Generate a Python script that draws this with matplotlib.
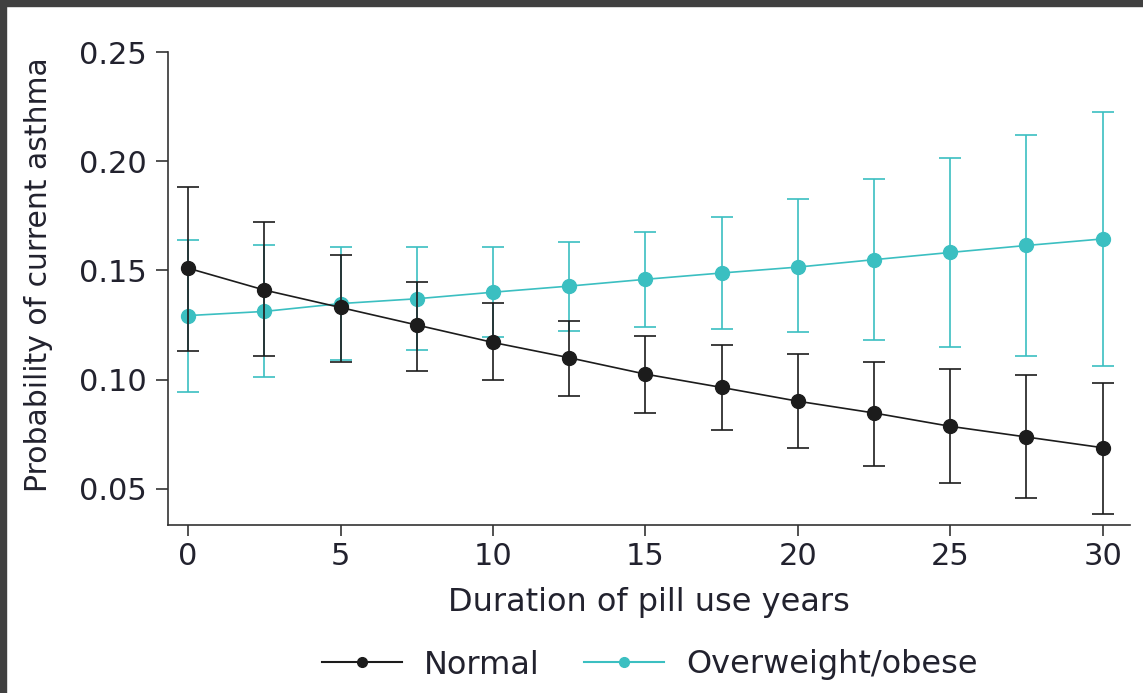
import matplotlib
matplotlib.use("Agg")
from matplotlib import pyplot as plt
from matplotlib.patches import Rectangle
from matplotlib.lines import Line2D

# duration of pill use (years)
years = [0, 2.5, 5, 7.5, 10, 12.5, 15, 17.5, 20, 22.5, 25, 27.5, 30]

normal = [0.151, 0.141, 0.133, 0.125, 0.117, 0.110, 0.1025, 0.0964, 0.0901, 0.0847, 0.0786, 0.0737, 0.0688]
normal_hi = [0.188, 0.172, 0.157, 0.1445, 0.135, 0.1266, 0.120, 0.1159, 0.1118, 0.1082, 0.1048, 0.1019, 0.0985]
normal_lo = [0.113, 0.111, 0.108, 0.104, 0.100, 0.0925, 0.0847, 0.0769, 0.0686, 0.0603, 0.0526, 0.0457, 0.0386]

obese = [0.1293, 0.1312, 0.1348, 0.137, 0.140, 0.1428, 0.1459, 0.1488, 0.1515, 0.1549, 0.1582, 0.1614, 0.1644]
obese_hi = [0.1641, 0.1618, 0.1605, 0.1605, 0.1605, 0.1632, 0.1674, 0.1744, 0.1827, 0.1918, 0.2015, 0.2121, 0.2224]
obese_lo = [0.0944, 0.1013, 0.109, 0.1137, 0.1195, 0.1223, 0.1242, 0.1230, 0.1216, 0.1181, 0.1151, 0.1110, 0.1062]

yticks = [0.05, 0.10, 0.15, 0.20, 0.25]
xticks = [0, 5, 10, 15, 20, 25, 30]

txt = '#22222e'
black = '#1c1c1c'
teal = '#3bbfc1'

plt.rcParams['font.family'] = ['DejaVu Sans']

fig = plt.figure(figsize=(11.43, 6.93), dpi=100)
ax = fig.add_axes([168/1143, 1 - 525/693, (1130 - 168)/1143, (525 - 52)/693])

def err(v, lo, hi):
    return [[a - b for a, b in zip(v, lo)], [b - a for a, b in zip(v, hi)]]

ax.errorbar(years, obese, yerr=err(obese, obese_lo, obese_hi), color=teal,
            marker='o', markersize=10, lw=1.2, elinewidth=1.2, capsize=8,
            capthick=1.2, zorder=2)
ax.errorbar(years, normal, yerr=err(normal, normal_lo, normal_hi), color=black,
            marker='o', markersize=10, lw=1.2, elinewidth=1.2, capsize=8,
            capthick=1.2, zorder=3)

ax.set_xlim(-0.66, 30.9)
ax.set_ylim(0.0334, 0.25)
ax.set_xticks(xticks)
ax.set_yticks(yticks)
ax.set_yticklabels(['%.2f' % v for v in yticks])
for s in ['top', 'right']:
    ax.spines[s].set_visible(False)
for s in ['left', 'bottom']:
    ax.spines[s].set_color('#333333')
    ax.spines[s].set_linewidth(1.2)
ax.tick_params(axis='y', length=9, width=1.2, color='#333333', labelsize=22,
               labelcolor=txt, pad=6)
ax.tick_params(axis='x', length=8, width=1.2, color='#333333', labelsize=22,
               labelcolor=txt, pad=4)

ax.set_xlabel('Duration of pill use years', fontsize=23, color=txt, labelpad=12)
ax.set_ylabel('Probability of current asthma', fontsize=21.5, color=txt, va='center')
ax.yaxis.set_label_coords(-0.135, 0.53)

handles = [Line2D([], [], color=black, lw=1.5, marker='o', markersize=7),
           Line2D([], [], color=teal, lw=1.5, marker='o', markersize=7)]
leg = fig.legend(handles, ['Normal', 'Overweight/obese'], loc='center',
                 bbox_to_anchor=(650/1143, 1 - 665/693), ncol=2, frameon=False,
                 fontsize=23, handlelength=2.5, columnspacing=1.4, handletextpad=0.7)
for t in leg.get_texts():
    t.set_color(txt)

# dark frame on top and left
fig.patches.append(Rectangle((0, 1 - 6/693), 1, 6/693, transform=fig.transFigure,
                             color='#404040', zorder=10))
fig.patches.append(Rectangle((0, 0), 6/1143, 1, transform=fig.transFigure,
                             color='#404040', zorder=10))

fig.savefig('out.png', dpi=100)
